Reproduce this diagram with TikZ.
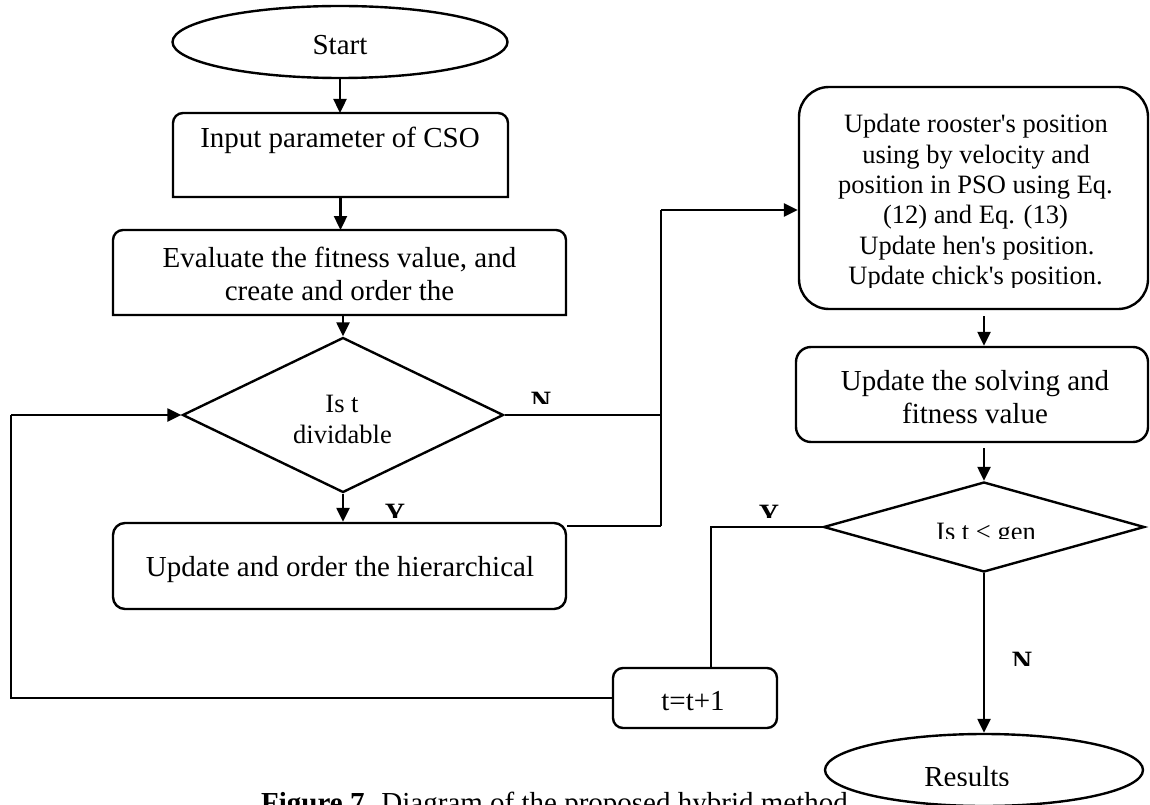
\documentclass[tikz,border=0pt]{standalone}
\usepackage{fontspec}
\setmainfont{Liberation Serif}
\usetikzlibrary{shapes.geometric,arrows.meta}
\begin{document}
\begin{tikzpicture}[x=1pt,y=-1pt,
  thk/.style={line width=2.4pt},
  thn/.style={line width=1.3pt},
  arr/.style={-{Triangle[length=14pt,width=13pt]}},
  ghost/.style={inner sep=0pt,outer sep=0pt},
  big/.style={font=\fontsize{29}{31}\selectfont, inner sep=0pt, anchor=base},
  sml/.style={font=\fontsize{26.5}{30}\selectfont, inner sep=0pt, anchor=base},
  yn/.style={font=\bfseries\fontsize{28}{30}\selectfont, inner sep=0pt, anchor=base},
  oval/.style={ellipse, draw, thk, fill=white, inner sep=0pt},
  dia/.style={diamond, draw, thk, inner sep=0pt},
  rbox/.style={rectangle, draw, thk, inner sep=0pt}
]
\clip (0,0) rectangle (1150,805);
\fill[white] (0,0) rectangle (1150,805);

% ---- left column ----
\node[oval, minimum width=335pt, minimum height=72pt] (start) at (340,42) {};
\node[big] (tstart) at (340,55) {Start};

\node[ghost, minimum width=335pt, minimum height=84pt] (input) at (340.5,155) {};
\draw[thk] (input.west) [rounded corners=10pt] -- (input.north west) -- (input.north east) -- (input.east) [sharp corners] -- (input.south east) -- (input.south west) -- cycle;
\node[big] (tinput) at (340,148) {Input parameter of CSO};

\node[ghost, minimum width=453pt, minimum height=85pt] (eval) at (339.5,272.5) {};
\draw[thk] (eval.west) [rounded corners=10pt] -- (eval.north west) -- (eval.north east) -- (eval.east) [sharp corners] -- (eval.south east) -- (eval.south west) -- cycle;
\node[big] (teval1) at (339.5,267) {Evaluate the fitness value, and};
\node[big] (teval2) at (339.5,300) {create and order the};

\node[dia, minimum width=321pt, minimum height=155pt] (d1) at (343,415) {};
\node[sml] (td1a) at (342,412) {Is t};
\node[sml] (td1b) at (342.5,443) {dividable};

\node[rbox, rounded corners=12pt, minimum width=453pt, minimum height=86pt] (hier) at (339.5,566) {};
\node[big] (thier) at (340,576) {Update and order the hierarchical};

% ---- right column ----
\node[rbox, rounded corners=30pt, minimum width=349pt, minimum height=222pt] (rooster) at (973.5,198) {};
\begin{scope}
\clip (800,90) rectangle (1146,287);
\node[sml] (tr1) at (976,133) {Update rooster\textquotesingle s position};
\node[sml] (tr2) at (976,163.3) {using by velocity and};
\node[sml] (tr3) at (975.5,193.6) {position in PSO using Eq.};
\node[sml] (tr4) at (975.5,223.9) {(12) and Eq. (13)};
\node[sml] (tr5) at (977,254.2) {Update hen\textquotesingle s position.};
\node[sml] (tr6) at (975.5,284.5) {Update chick\textquotesingle s position.};
\end{scope}

\node[rbox, rounded corners=15pt, minimum width=352pt, minimum height=95pt] (solving) at (972,394.5) {};
\node[big] (ts1) at (975,390) {Update the solving and};
\node[big] (ts2) at (975,423) {fitness value};

\node[dia, minimum width=321pt, minimum height=90pt] (d2) at (984,527) {};
\begin{scope}
\clip (840,490) rectangle (1130,538);
\node[sml] (td2) at (986,540.5) {Is t \textless{} gen};
\end{scope}

\node[rbox, rounded corners=10pt, minimum width=164pt, minimum height=60pt] (tbox) at (695,698) {};
\node[big] (ttbox) at (693,710) {t=t+1};

% caption (partly hidden, as in the reference)
\node[big, anchor=base west] (cap) at (261,812) {\textbf{Figure 7.} Diagram of the proposed hybrid method.};

\node[oval, minimum width=318pt, minimum height=72pt] (results) at (984,770) {};
\begin{scope}
\clip (880,740) rectangle (1100,785);
\node[big] (tresults) at (967,786) {Results};
\end{scope}

% ---- labels ----
\begin{scope}
\clip (520,380) rectangle (565,403);
\node[yn] (n1) at (541,410.5) {N};
\end{scope}
\begin{scope}
\clip (375,495) rectangle (415,517);
\node[yn] (y1) at (395,522.5) {Y};
\end{scope}
\begin{scope}
\clip (750,495) rectangle (790,517);
\node[yn] (y2) at (769,523.5) {Y};
\end{scope}
\begin{scope}
\clip (1000,640) rectangle (1045,665);
\node[yn] (n2) at (1022,670.5) {N};
\end{scope}

% ---- connectors ----
\coordinate (j1) at (661,210);
\coordinate (jn) at (661,415);
\coordinate (j2) at (661,526);
\coordinate (j3) at (711,527);
\coordinate (j4) at (11,697);
\coordinate (j5) at (11,415);

\draw[thk,arr] (start.south) -- (start.south |- input.north);
\draw[thk,arr] (input.south) -- (input.south |- eval.north);
\draw[thk,arr] (eval.south -| d1.north) -- (d1.north);
\draw[thk,arr] (d1.south) -- (d1.south |- hier.north);

\draw[thn] (d1.east) -- (jn);
\draw[thn] (j2) -- (j1);
\draw[thn] (hier.east |- j2) -- (j2);
\draw[thk,arr] (j1) -- (j1 -| rooster.west);

\draw[thk,arr,shorten <=6pt] (rooster.south -| d2.north) -- (solving.north -| d2.north);
\draw[thk,arr,shorten <=5pt] (solving.south -| d2.north) -- (d2.north);
\draw[thk,arr] (d2.south) -- (results.north);

\draw[thn] (d2.west) -- (j3) -- (j3 |- tbox.north);
\draw[thn] (tbox.west) -- (tbox.west -| j4) -- (j5);
\draw[thk,arr] (j5) -- (d1.west);
\end{tikzpicture}
\end{document}
